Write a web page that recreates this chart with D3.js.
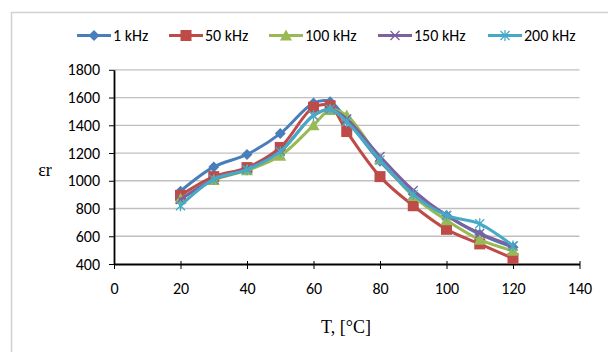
<!DOCTYPE html>
<html><head><meta charset="utf-8">
<script src="https://cdn.jsdelivr.net/npm/d3@7"></script>
<style>body{margin:0;background:#fff}svg{display:block}</style>
</head><body>
<svg id="c" width="608" height="352"></svg>
<script>
const temps = [20, 30, 40, 50, 60, 65, 70, 80, 90, 100, 110, 120];
const s1k   = [925, 1100, 1190, 1340, 1560, 1570, 1440, 1140, 905, 750, 615, 520];
const s50k  = [895, 1030, 1095, 1240, 1530, 1540, 1355, 1030, 820, 650, 545, 440];
const s100k = [870, 1005, 1075, 1180, 1400, 1510, 1470, 1155, 890, 715, 575, 495];
const s150k = [865, 1010, 1085, 1215, 1470, 1515, 1445, 1175, 930, 750, 620, 530];
const s200k = [820, 1010, 1080, 1210, 1470, 1515, 1425, 1150, 900, 750, 690, 530];
const seriesNames = ["1 kHz", "50 kHz", "100 kHz", "150 kHz", "200 kHz"];
const seriesColors = ["#4A7EBB", "#BE4B48", "#98B954", "#7D60A0", "#46AAC5"];
const seriesMarkers = ["diamond", "square", "triangle", "x", "star"];
const xTicks = [0, 20, 40, 60, 80, 100, 120, 140];
const yTicks = [400, 600, 800, 1000, 1200, 1400, 1600, 1800];
const allSeries = [s1k, s50k, s100k, s150k, s200k];

const svg = d3.select("#c");
const x = d3.scaleLinear().domain([0, 140]).range([114, 579.5]);
const y = d3.scaleLinear().domain([400, 1800]).range([264, 69.8]);

// outer border
svg.append("path").attr("d", "M11.5,352 V12.5 H608").attr("fill", "none").attr("stroke", "#d0d0d0").attr("stroke-width", 1.5);

// gridlines
svg.append("g").selectAll("line").data(yTicks.slice(1)).join("line")
  .attr("x1", x(0)).attr("x2", x(140)).attr("y1", d => y(d)).attr("y2", d => y(d))
  .attr("stroke", "#c0c0c0").attr("stroke-width", 1.3);

const font = "Carlito, Lato, 'Open Sans', sans-serif";
const fs = 16;
// y axis
const yAxis = svg.append("g").attr("transform", `translate(${x(0)},0)`)
  .call(d3.axisLeft(y).tickValues(yTicks).tickFormat(d3.format("d")).tickSize(5).tickPadding(9).tickSizeOuter(0));
yAxis.select(".domain").attr("stroke", "#000").attr("stroke-width", 1.8);
yAxis.selectAll(".tick line").attr("stroke", "#000").attr("stroke-width", 1);
yAxis.selectAll("text").attr("font-family", font).attr("font-size", fs).attr("fill", "#000");

// x axis
const xAxis = svg.append("g").attr("transform", `translate(0,${y(400)})`)
  .call(d3.axisBottom(x).tickValues(xTicks).tickFormat(d3.format("d")).tickSize(5).tickPadding(14).tickSizeOuter(0));
xAxis.select(".domain").attr("stroke", "#000").attr("stroke-width", 2);
xAxis.selectAll(".tick line").attr("stroke", "#000").attr("stroke-width", 1).attr("y1", -3);
xAxis.selectAll("text").attr("font-family", font).attr("font-size", fs).attr("fill", "#000");

// axis titles
svg.append("text").attr("x", 346).attr("y", 333).attr("text-anchor", "middle")
  .attr("font-family", "'Liberation Serif', 'Times New Roman', serif").attr("font-size", 18).text("T, [°C]");
svg.append("text").attr("x", 45).attr("y", 176).attr("text-anchor", "middle")
  .attr("font-family", "'Liberation Serif', 'Times New Roman', serif").attr("font-size", 18).text("εr");

const line = d3.line().curve(d3.curveCatmullRom.alpha(0.5));

function marker(g, type, cx, cy, color) {
  if (type === "diamond") {
    g.append("path").attr("d", `M${cx},${cy-5.5} L${cx+5.5},${cy} L${cx},${cy+5.5} L${cx-5.5},${cy} Z`).attr("fill", color);
  } else if (type === "square") {
    g.append("rect").attr("x", cx-5.5).attr("y", cy-5.5).attr("width", 11).attr("height", 11).attr("fill", color);
  } else if (type === "triangle") {
    g.append("path").attr("d", `M${cx},${cy-6} L${cx+6},${cy+5} L${cx-6},${cy+5} Z`).attr("fill", color);
  } else if (type === "x") {
    g.append("path").attr("d", `M${cx-4.5},${cy-4.5} L${cx+4.5},${cy+4.5} M${cx-4.5},${cy+4.5} L${cx+4.5},${cy-4.5}`).attr("stroke", color).attr("stroke-width", 1.3);
  } else if (type === "star") {
    g.append("path").attr("d", `M${cx-4.5},${cy-4.5} L${cx+4.5},${cy+4.5} M${cx-4.5},${cy+4.5} L${cx+4.5},${cy-4.5} M${cx},${cy-5.5} L${cx},${cy+5.5}`).attr("stroke", color).attr("stroke-width", 1.3);
  }
}

allSeries.forEach((vals, i) => {
  const g = svg.append("g");
  const pts = temps.map((t, j) => [x(t), y(vals[j])]);
  g.append("path").attr("d", line(pts)).attr("fill", "none").attr("stroke", seriesColors[i])
    .attr("stroke-width", 3).attr("stroke-linejoin", "round").attr("stroke-linecap", "round");
  pts.forEach(p => marker(g, seriesMarkers[i], p[0], p[1], seriesColors[i]));
});

// legend
const legX = [77, 169, 269, 378, 488];
seriesNames.forEach((n, i) => {
  const g = svg.append("g");
  const x0 = legX[i], yy = 35.5;
  g.append("line").attr("x1", x0).attr("x2", x0 + 34).attr("y1", yy).attr("y2", yy)
    .attr("stroke", seriesColors[i]).attr("stroke-width", 3);
  marker(g, seriesMarkers[i], x0 + 17, yy, seriesColors[i]);
  g.append("text").attr("x", x0 + 36).attr("y", yy + 5.5).attr("font-family", font)
    .attr("font-size", fs).text(n);
});
</script>
</body></html>
